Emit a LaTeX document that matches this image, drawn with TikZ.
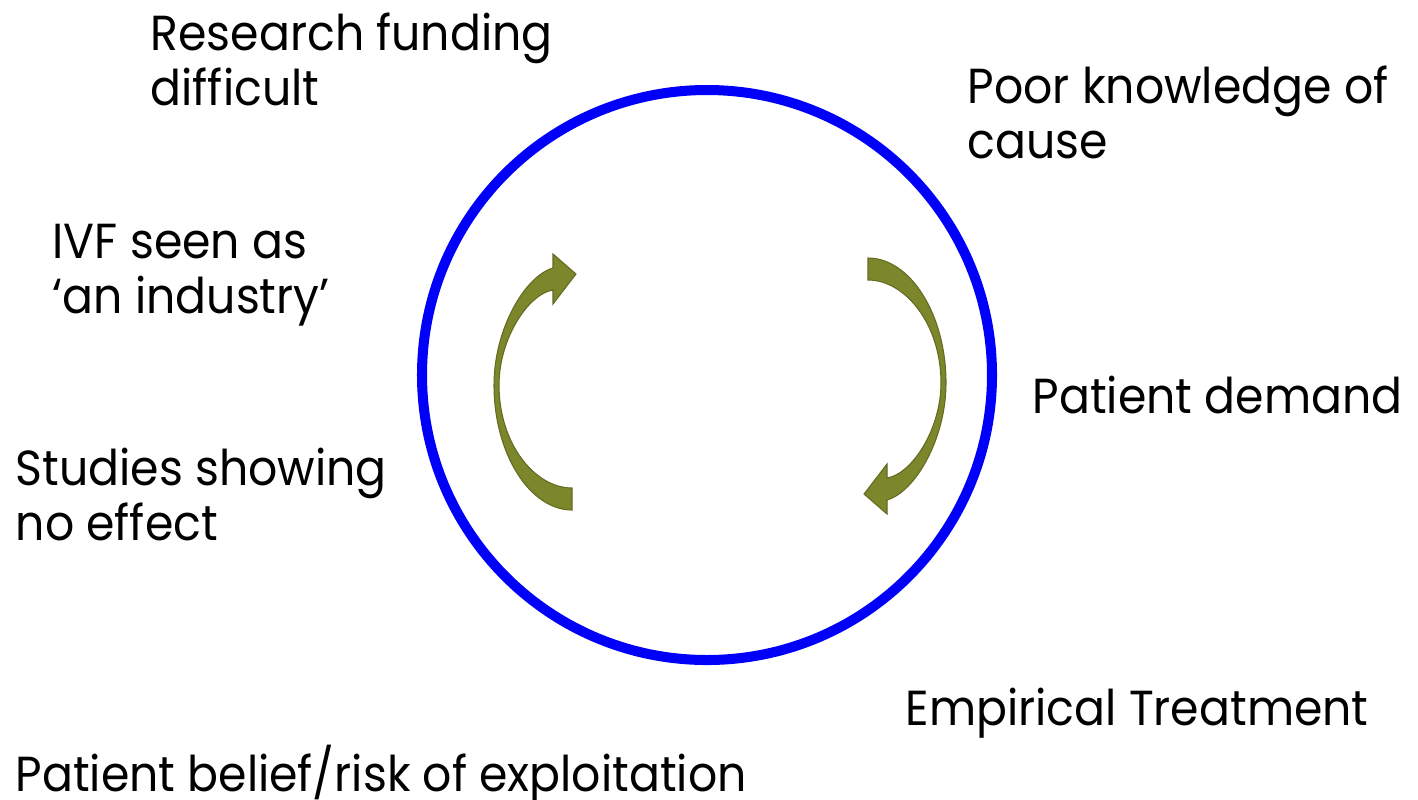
\documentclass[tikz,border=0pt]{standalone}
\usepackage{fontspec}
\setmainfont{Poppins}[FakeStretch=0.93]
\usepackage{tikz}

\definecolor{ringblue}{RGB}{0,0,250}
\definecolor{loopgreen}{RGB}{124,134,42}

\tikzset{
  cause text/.style = {anchor=base west, inner sep=0pt, align=left,
    font=\fontsize{14}{15.6}\selectfont},
  loop arrow/.pic = {
    \fill[loopgreen, draw=loopgreen!80!black, line width=0.3pt]
      (-148,126) .. controls (-190,126) and (-226,70) .. (-226,1)
      .. controls (-226,-55) and (-195,-108) .. (-167,-116)
      -- (-167,-130) -- (-144,-110) -- (-167,-80) -- (-167,-94)
      .. controls (-192,-90) and (-221,-45) .. (-221,1)
      .. controls (-221,60) and (-185,104) .. (-148,104) -- cycle;
  }
}

\begin{document}
\begin{tikzpicture}[x=0.01cm, y=-0.01cm]
\useasboundingbox (0,0) rectangle (1418,799);

\draw[ringblue, line width=2.85pt] (707,375) circle[radius=285];

\pic at (720,384) {loop arrow};
\pic[rotate=180] at (720,384) {loop arrow};

% multi-line texts sit on the baseline of their last line
\node[cause text] (research) at (150,105) {Research funding\\difficult};
\node[cause text] (knowledge) at (967,158) {Poor knowledge of\\cause};
\node[cause text] (industry) at (52,313) {IVF seen as\\ ‘an industry’};
\node[cause text] (demand) at (1032,413) {Patient demand};
\node[cause text] (studies) at (15,540) {Studies showing\\no effect};
\node[cause text] (treatment) at (905,725) {Empirical Treatment};
\node[cause text] (belief) at (15,791) {Patient belief/risk of exploitation};
\end{tikzpicture}
\end{document}
